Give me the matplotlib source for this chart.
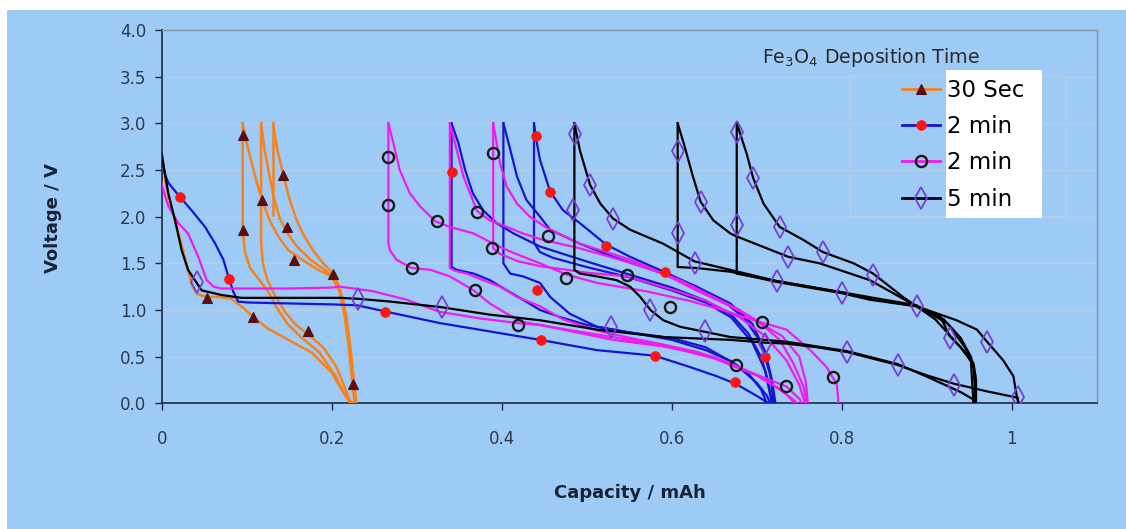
import numpy as np
import matplotlib
matplotlib.use("Agg")
import matplotlib.pyplot as plt
from matplotlib.lines import Line2D
from matplotlib.patches import Rectangle
from matplotlib.ticker import FuncFormatter

plt.rcParams["font.family"] = ["DejaVu Sans"]
plt.rcParams["mathtext.fontset"] = "dejavusans"
plt.rcParams["mathtext.default"] = "regular"

# ---- data: capacity (mAh) / voltage (V), one list per cycle curve ----
# 30 Sec
sec30_caps = [
    [0, 0.004, 0.008, 0.016, 0.024, 0.031, 0.036, 0.042, 0.053, 0.068, 0.082, 0.095, 0.107, 0.125, 0.149, 0.177, 0.2, 0.216, 0.225],
    [0.0953, 0.100, 0.106, 0.112, 0.1196, 0.127, 0.137, 0.149, 0.165, 0.184, 0.2, 0.209, 0.215, 0.22, 0.224, 0.227],
    [0.0953, 0.0953, 0.098, 0.104, 0.115, 0.125, 0.135, 0.148, 0.165, 0.185, 0.204, 0.214, 0.222],
    [0.117, 0.121, 0.1265, 0.132, 0.139, 0.148, 0.16, 0.175, 0.193, 0.205, 0.213, 0.219, 0.224, 0.228],
    [0.117, 0.117, 0.119, 0.124, 0.133, 0.145, 0.158, 0.172, 0.19, 0.205, 0.215, 0.222],
    [0.131, 0.136, 0.143, 0.15, 0.158, 0.167, 0.178, 0.19, 0.202, 0.21, 0.217, 0.222, 0.226, 0.229],
    [0.131, 0.131],
]
sec30_volts = [
    [2.68, 2.4, 2.2, 1.95, 1.68, 1.43, 1.25, 1.17, 1.14, 1.14, 1.12, 1.03, 0.93, 0.8, 0.68, 0.54, 0.33, 0.08, 0.0],
    [3.0, 2.79, 2.57, 2.36, 2.14, 1.96, 1.79, 1.64, 1.54, 1.43, 1.36, 1.2, 0.95, 0.6, 0.25, 0.0],
    [3.0, 1.86, 1.62, 1.45, 1.32, 1.2, 1.03, 0.85, 0.7, 0.55, 0.3, 0.12, 0.0],
    [3.0, 2.72, 2.45, 2.2, 1.98, 1.82, 1.67, 1.54, 1.42, 1.33, 1.12, 0.8, 0.4, 0.0],
    [3.0, 1.72, 1.5, 1.33, 1.16, 0.98, 0.84, 0.74, 0.6, 0.4, 0.18, 0.0],
    [3.0, 2.72, 2.45, 2.2, 1.98, 1.8, 1.64, 1.5, 1.39, 1.22, 0.95, 0.6, 0.25, 0.0],
    [3.0, 2.02],
]
sec30_mcap = [0.0953, 0.0953, 0.1176, 0.143, 0.148, 0.156, 0.202, 0.053, 0.107, 0.1725, 0.225]
sec30_mvolt = [2.88, 1.86, 2.18, 2.45, 1.89, 1.54, 1.39, 1.13, 0.93, 0.77, 0.21]

# 2 min (blue)
min2a_caps = [
    [0, 0.004, 0.008, 0.0215, 0.035, 0.051, 0.063, 0.0725, 0.079, 0.084, 0.09, 0.102, 0.15, 0.2, 0.23, 0.265, 0.327, 0.386, 0.445, 0.512, 0.58, 0.621, 0.653, 0.675, 0.7, 0.714],
    [0.341, 0.349, 0.357, 0.366, 0.378, 0.394, 0.414, 0.445, 0.5, 0.55, 0.6, 0.64, 0.67, 0.69, 0.705, 0.713, 0.718],
    [0.341, 0.341, 0.347, 0.367, 0.386, 0.406, 0.425, 0.445, 0.47, 0.5, 0.55, 0.6, 0.64, 0.67, 0.69, 0.705, 0.712],
    [0.402, 0.41, 0.418, 0.429, 0.445, 0.457, 0.492, 0.531, 0.59, 0.629, 0.669, 0.695, 0.71, 0.718, 0.722],
    [0.402, 0.402, 0.41, 0.425, 0.445, 0.457, 0.48, 0.512, 0.55, 0.6, 0.64, 0.675, 0.7, 0.712, 0.716],
    [0.438, 0.44, 0.445, 0.457, 0.472, 0.492, 0.523, 0.551, 0.593, 0.629, 0.66, 0.685, 0.705, 0.716, 0.72],
    [0.438, 0.438, 0.445, 0.46, 0.5, 0.55, 0.6, 0.64, 0.67, 0.695, 0.71, 0.718],
]
min2a_volts = [
    [2.6, 2.45, 2.36, 2.21, 2.07, 1.89, 1.71, 1.54, 1.34, 1.2, 1.09, 1.08, 1.07, 1.06, 1.05, 0.98, 0.86, 0.77, 0.68, 0.57, 0.51, 0.39, 0.29, 0.21, 0.08, 0.0],
    [3.0, 2.79, 2.5, 2.25, 2.07, 1.93, 1.82, 1.68, 1.52, 1.38, 1.24, 1.1, 0.95, 0.75, 0.5, 0.25, 0.0],
    [3.0, 1.46, 1.43, 1.39, 1.32, 1.21, 1.11, 1.0, 0.92, 0.84, 0.76, 0.68, 0.57, 0.45, 0.32, 0.15, 0.0],
    [3.0, 2.72, 2.43, 2.18, 2.0, 1.86, 1.71, 1.57, 1.39, 1.25, 1.07, 0.85, 0.55, 0.25, 0.0],
    [3.0, 1.5, 1.39, 1.36, 1.29, 1.14, 0.96, 0.82, 0.76, 0.7, 0.6, 0.42, 0.22, 0.08, 0.0],
    [3.0, 2.86, 2.61, 2.27, 2.07, 1.93, 1.70, 1.57, 1.40, 1.25, 1.1, 0.92, 0.65, 0.3, 0.0],
    [3.0, 1.72, 1.62, 1.56, 1.46, 1.35, 1.21, 1.08, 0.92, 0.65, 0.35, 0.0],
]
min2a_mcap = [0.0215, 0.079, 0.263, 0.341, 0.44, 0.457, 0.523, 0.592, 0.442, 0.446, 0.58, 0.71, 0.674]
min2a_mvolt = [2.21, 1.33, 0.98, 2.48, 2.86, 2.26, 1.69, 1.41, 1.21, 0.68, 0.51, 0.50, 0.23]

# 2 min (magenta)
min2b_caps = [
    [0, 0.004, 0.008, 0.0196, 0.031, 0.043, 0.053, 0.061, 0.07, 0.1, 0.15, 0.2, 0.21, 0.249, 0.288, 0.327, 0.374, 0.418, 0.445, 0.472, 0.531, 0.59, 0.649, 0.696, 0.735, 0.751, 0.753],
    [0.2667, 0.2725, 0.28, 0.292, 0.304, 0.322, 0.339, 0.367, 0.39, 0.414, 0.445, 0.476, 0.512, 0.57, 0.62, 0.66, 0.7, 0.73, 0.75, 0.758, 0.76],
    [0.2667, 0.2667, 0.2686, 0.276, 0.294, 0.316, 0.339, 0.367, 0.386, 0.406, 0.425, 0.47, 0.53, 0.6, 0.65, 0.7, 0.73, 0.745],
    [0.339, 0.345, 0.355, 0.371, 0.386, 0.406, 0.425, 0.445, 0.492, 0.531, 0.571, 0.61, 0.649, 0.68, 0.704, 0.727, 0.743, 0.755, 0.759],
    [0.339, 0.339, 0.345, 0.359, 0.378, 0.398, 0.418, 0.445, 0.472, 0.512, 0.551, 0.59, 0.63, 0.669, 0.7, 0.725, 0.74, 0.748],
    [0.39, 0.394, 0.398, 0.406, 0.418, 0.433, 0.453, 0.492, 0.551, 0.59, 0.629, 0.669, 0.704, 0.735, 0.763, 0.782, 0.794, 0.796, 0.796],
    [0.39, 0.39, 0.398, 0.42, 0.445, 0.5, 0.547, 0.6, 0.64, 0.68, 0.71, 0.735, 0.75, 0.757],
]
min2b_volts = [
    [2.35, 2.22, 2.11, 1.93, 1.82, 1.57, 1.32, 1.25, 1.23, 1.23, 1.23, 1.24, 1.25, 1.2, 1.11, 0.98, 0.91, 0.86, 0.84, 0.79, 0.68, 0.61, 0.5, 0.32, 0.18, 0.04, 0.0],
    [3.0, 2.79, 2.5, 2.25, 2.11, 1.95, 1.89, 1.82, 1.71, 1.61, 1.5, 1.38, 1.29, 1.2, 1.1, 1.0, 0.88, 0.72, 0.5, 0.22, 0.0],
    [3.0, 1.71, 1.64, 1.54, 1.45, 1.43, 1.36, 1.21, 1.07, 0.96, 0.87, 0.8, 0.71, 0.6, 0.48, 0.3, 0.14, 0.0],
    [3.0, 2.79, 2.43, 2.06, 1.96, 1.89, 1.82, 1.76, 1.66, 1.56, 1.45, 1.32, 1.14, 1.0, 0.86, 0.68, 0.43, 0.18, 0.0],
    [3.0, 1.45, 1.42, 1.39, 1.32, 1.25, 1.14, 1.04, 0.9, 0.78, 0.7, 0.63, 0.55, 0.43, 0.3, 0.16, 0.06, 0.0],
    [3.0, 2.79, 2.57, 2.32, 2.14, 2.0, 1.88, 1.71, 1.54, 1.39, 1.21, 1.04, 0.87, 0.79, 0.57, 0.39, 0.21, 0.04, 0.0],
    [3.0, 1.66, 1.6, 1.52, 1.47, 1.4, 1.36, 1.22, 1.1, 0.92, 0.72, 0.46, 0.2, 0.0],
]
min2b_mcap = [0.2667, 0.2667, 0.294, 0.3235, 0.3706, 0.39, 0.388, 0.3686, 0.4196, 0.455, 0.476, 0.547, 0.598, 0.706, 0.676, 0.734, 0.79]
min2b_mvolt = [2.64, 2.13, 1.45, 1.95, 2.05, 2.68, 1.66, 1.21, 0.84, 1.79, 1.34, 1.375, 1.035, 0.875, 0.41, 0.19, 0.28]

# 5 min (black)
min5_caps = [
    [0, 0.004, 0.0078, 0.0157, 0.0235, 0.031, 0.039, 0.047, 0.0706, 0.094, 0.149, 0.21, 0.231, 0.269, 0.329, 0.386, 0.445, 0.512, 0.59, 0.669, 0.71, 0.735, 0.771, 0.806, 0.866, 0.9, 0.932, 0.97, 1.007, 1.008],
    [0.4855, 0.492, 0.504, 0.516, 0.531, 0.551, 0.59, 0.627, 0.669, 0.7235, 0.8, 0.833, 0.888, 0.916, 0.927, 0.943, 0.955, 0.958, 0.958],
    [0.4855, 0.4855, 0.492, 0.512, 0.535, 0.551, 0.563, 0.575, 0.59, 0.61, 0.637, 0.669, 0.735, 0.806, 0.866, 0.904, 0.94, 0.957, 0.957],
    [0.607, 0.614, 0.625, 0.634, 0.649, 0.669, 0.676, 0.737, 0.774, 0.833, 0.888, 0.91, 0.925, 0.94, 0.952, 0.955],
    [0.607, 0.607, 0.629, 0.669, 0.7235, 0.8, 0.833, 0.888, 0.92, 0.94, 0.952, 0.957, 0.957],
    [0.6765, 0.688, 0.696, 0.708, 0.727, 0.755, 0.778, 0.814, 0.837, 0.872, 0.888, 0.935, 0.959, 0.971, 0.99, 1.002, 1.006, 1.008],
    [0.6765, 0.6765, 0.7235, 0.8, 0.888, 0.925, 0.945, 0.955, 0.958],
]
min5_volts = [
    [2.68, 2.45, 2.25, 1.96, 1.64, 1.43, 1.32, 1.21, 1.16, 1.13, 1.13, 1.13, 1.12, 1.09, 1.03, 0.95, 0.89, 0.79, 0.71, 0.68, 0.65, 0.64, 0.6, 0.55, 0.41, 0.3, 0.21, 0.13, 0.06, 0.0],
    [3.0, 2.71, 2.34, 2.14, 1.98, 1.86, 1.71, 1.52, 1.43, 1.31, 1.19, 1.12, 1.04, 0.93, 0.72, 0.57, 0.43, 0.25, 0.0],
    [3.0, 1.43, 1.39, 1.36, 1.32, 1.25, 1.14, 1.0, 0.89, 0.82, 0.77, 0.71, 0.66, 0.56, 0.42, 0.27, 0.12, 0.03, 0.0],
    [3.0, 2.79, 2.43, 2.16, 1.96, 1.82, 1.79, 1.57, 1.5, 1.32, 1.04, 0.9, 0.75, 0.6, 0.45, 0.0],
    [3.0, 1.46, 1.45, 1.41, 1.30, 1.18, 1.11, 1.04, 0.9, 0.7, 0.5, 0.3, 0.0],
    [3.0, 2.68, 2.41, 2.14, 1.89, 1.75, 1.62, 1.5, 1.39, 1.14, 1.04, 0.89, 0.79, 0.66, 0.46, 0.29, 0.07, 0.0],
    [3.0, 1.39, 1.31, 1.19, 1.05, 0.85, 0.6, 0.4, 0.0],
]
min5_mcap = [0.041, 0.231, 0.33, 0.486, 0.504, 0.484, 0.531, 0.575, 0.528, 0.607, 0.634, 0.607, 0.627, 0.639,
             0.6765, 0.696, 0.6765, 0.727, 0.737, 0.778, 0.7235, 0.8, 0.837, 0.888, 0.71, 0.806, 0.866, 0.927, 0.971, 0.932, 1.007]
min5_mvolt = [1.30, 1.12, 1.03, 2.89, 2.34, 2.07, 1.98, 1.0, 0.82, 2.70, 2.16, 1.82, 1.5, 0.77,
              2.91, 2.41, 1.91, 1.89, 1.57, 1.62, 1.31, 1.18, 1.38, 1.04, 0.64, 0.55, 0.41, 0.70, 0.66, 0.20, 0.07]

labels = ["30 Sec", "2 min", "2 min", "5 min"]

# ---- styling ----
BG = "#9DCBF6"
ORANGE, BLUE, MAGENTA, BLACK = "#F5821F", "#1414D2", "#EE1CEE", "#000000"
mk_styles = [
    dict(marker="^", ms=7.5, mfc="#5A0E0E", mec="#5A0E0E", mew=0.8),
    dict(marker="o", ms=7, mfc="#FF1414", mec="#FF1414", mew=0.5),
    dict(marker="o", ms=8, mfc="none", mec="#1A1A1A", mew=1.7),
    dict(marker="d", ms=11, mfc="none", mec="#7440CC", mew=1.3),
]
series = [
    (sec30_caps, sec30_volts, sec30_mcap, sec30_mvolt, ORANGE, 1.8),
    (min2a_caps, min2a_volts, min2a_mcap, min2a_mvolt, BLUE, 1.6),
    (min2b_caps, min2b_volts, min2b_mcap, min2b_mvolt, MAGENTA, 1.6),
    (min5_caps, min5_volts, min5_mcap, min5_mvolt, BLACK, 1.6),
]

fig = plt.figure(figsize=(11.26, 5.29), dpi=100)
fig.patch.set_facecolor("white")
fig.patches.append(Rectangle((7 / 1126, 0), 1 - 7 / 1126, 519 / 529, transform=fig.transFigure,
                             facecolor=BG, edgecolor="none", zorder=-10))

ax = fig.add_axes([0.1436, 0.2376, 0.8304, 0.7057])
ax.set_zorder(5)
ax.set_facecolor("none")
ax.set_xlim(0, 1.1)
ax.set_ylim(0, 4.0)

for i, (caps, volts, mc, mv, col, lw) in enumerate(series):
    for c, v in zip(caps, volts):
        ax.plot(c, v, color=col, lw=lw, solid_joinstyle="round", zorder=3 + i * 0.1)
for i, (caps, volts, mc, mv, col, lw) in enumerate(series):
    ax.plot(mc, mv, ls="none", zorder=6, **mk_styles[i])

ax.set_yticks(np.arange(0, 4.01, 0.5))
ax.set_xticks([0, 0.2, 0.4, 0.6, 0.8, 1.0])
ax.yaxis.set_major_formatter(FuncFormatter(lambda v, _: f"{v:.1f}"))
ax.xaxis.set_major_formatter(FuncFormatter(lambda v, _: f"{v:g}"))
ax.yaxis.grid(True, color="#B6CDE2", lw=1.0)
ax.set_axisbelow(True)

for s in ("left", "bottom"):
    ax.spines[s].set_color("#1E2A44")
    ax.spines[s].set_linewidth(1.2)
for s in ("top", "right"):
    ax.spines[s].set_color("#8593A6")
    ax.spines[s].set_linewidth(1.0)

ax.tick_params(axis="y", direction="out", length=5, width=1, color="#1E2A44", pad=6,
               labelsize=12, labelcolor="#2C3A4E")
ax.tick_params(axis="x", direction="out", length=5, width=1, color="#1E2A44", pad=14,
               labelsize=12, labelcolor="#2C3A4E")

ax.set_xlabel("Capacity / mAh", fontsize=13, fontweight="bold", color="#1A2236")
ax.set_ylabel("Voltage / V", fontsize=13, fontweight="bold", color="#1A2236")
ax.xaxis.label.set_verticalalignment("center")
ax.yaxis.label.set_verticalalignment("center")
ax.xaxis.set_label_coords(0.501, -0.240)
ax.yaxis.set_label_coords(-0.116, 0.496)

# legend area
ax.add_patch(Rectangle((0.7362, 0.5017), 0.231, 0.3777, transform=ax.transAxes,
                       facecolor="none", edgecolor="#B3CDE8", lw=1.0, zorder=1))
ax.add_patch(Rectangle((0.8388, 0.4964), 0.1027, 0.3965, transform=ax.transAxes,
                       facecolor="white", edgecolor="none", zorder=7))
ax.text(0.642, 0.925, "Fe$_3$O$_4$ Deposition Time", transform=ax.transAxes,
        ha="left", va="center", fontsize=13.7, color="#2A2A2A", zorder=8)
handles = [Line2D([], [], color=s[4], lw=2, **mk_styles[i]) for i, s in enumerate(series)]
leg = ax.legend(handles, labels, loc="upper left", bbox_to_anchor=(0.7918, 0.8695),
                frameon=False, fontsize=16.5, handlelength=1.66, handletextpad=0.3,
                labelspacing=0.58, borderpad=0, borderaxespad=0)
leg.set_zorder(9)

fig.savefig("out.png", dpi=100, facecolor=fig.get_facecolor())
